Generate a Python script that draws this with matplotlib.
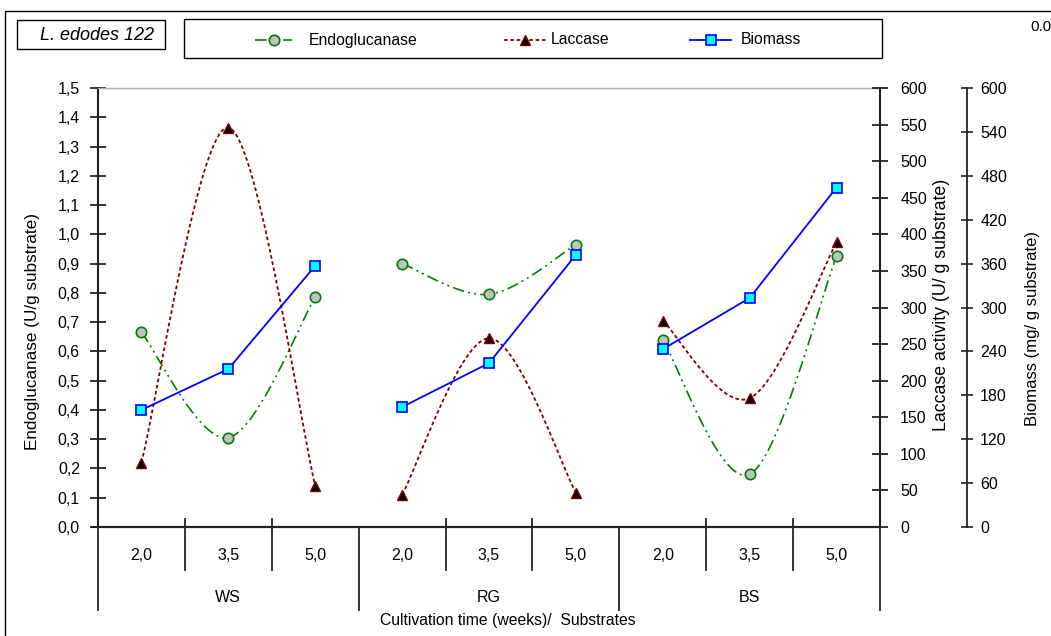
import numpy as np
import matplotlib
matplotlib.use("Agg")
import matplotlib.pyplot as plt
import matplotlib.ticker as mticker
import matplotlib.transforms as mtransforms
from matplotlib.lines import Line2D
from matplotlib.patches import Rectangle

plt.rcParams['font.family'] = ['Liberation Sans', 'DejaVu Sans']

# --- data ---
SUBSTRATES = ["WS", "RG", "BS"]
WEEKS = ["2,0", "3,5", "5,0"]
ENDO = [[0.665, 0.305, 0.785], [0.90, 0.795, 0.965], [0.64, 0.18, 0.925]]
LACCASE = [[88, 546, 56], [44, 258, 47], [282, 176, 389]]
BIOMASS = [[160, 216, 357], [164, 224, 372], [243, 313, 464]]

W, H = 1051, 636
FS = 11.5


def fx(x):
    return x / W


def fy(y):
    return 1 - y / H


def smooth(xs, ys, n=40):
    # excel style smoothed line: cubic bezier through the points
    p = np.column_stack([xs, ys]).astype(float)
    ext = np.vstack([p[0], p, p[-1]])
    out = []
    t = np.linspace(0, 1, n)[:, None]
    for i in range(len(p) - 1):
        p0, p3 = ext[i + 1], ext[i + 2]
        c1 = p0 + (ext[i + 2] - ext[i]) / 6
        c2 = p3 - (ext[i + 3] - ext[i + 1]) / 6
        seg = ((1 - t) ** 3) * p0 + 3 * ((1 - t) ** 2) * t * c1 + 3 * (1 - t) * t ** 2 * c2 + t ** 3 * p3
        out.append(seg)
    out = np.vstack(out)
    return out[:, 0], out[:, 1]


fig = plt.figure(figsize=(W / 100, H / 100), dpi=100)
ax = fig.add_axes([fx(98), fy(527), (880 - 98) / W, (527 - 88) / H])
ax2 = ax.twinx()
ax3 = ax.twinx()

ENDO_STYLE = dict(color="#008000", lw=1.2, dashes=(7, 2.5, 1.2, 2.5, 1.2, 2.5))
LAC_STYLE = dict(color="#800000", lw=1.3, dashes=(2, 1.5))
BIO_STYLE = dict(color="#0000ff", lw=1.3)
ENDO_MK = dict(marker="o", ms=7.5, mfc="#c0c0c0", mec="#008000", mew=1.2, ls="none")
LAC_MK = dict(marker="^", ms=7.5, mfc="black", mec="#800000", mew=1.0, ls="none")
BIO_MK = dict(marker="s", ms=7, mfc="#00ffff", mec="#0000ff", mew=1.2, ls="none")

for g in range(3):
    xs = np.arange(3) + 3 * g
    sx, sy = smooth(xs, ENDO[g])
    ax.plot(sx, sy, **ENDO_STYLE, zorder=3)
    ax.plot(xs, ENDO[g], **ENDO_MK, zorder=4)
    sx, sy = smooth(xs, LACCASE[g])
    ax2.plot(sx, sy, **LAC_STYLE, zorder=3)
    ax2.plot(xs, LACCASE[g], **LAC_MK, zorder=4)
    ax3.plot(xs, BIOMASS[g], **BIO_STYLE, zorder=3)
    ax3.plot(xs, BIOMASS[g], **BIO_MK, zorder=4)

ax.set_xlim(-0.5, 8.5)
ax.set_ylim(0, 1.5)
ax2.set_ylim(0, 600)
ax3.set_ylim(0, 600)

ax.set_yticks(np.arange(0, 1.51, 0.1))
ax.yaxis.set_major_formatter(mticker.FuncFormatter(lambda v, p: f"{v:.1f}".replace(".", ",")))
ax2.set_yticks(np.arange(0, 601, 50))
ax3.set_yticks(np.arange(0, 601, 60))
ax.set_xticks([])

for a in (ax, ax2, ax3):
    for s in a.spines.values():
        s.set_visible(False)

ax.spines["left"].set_visible(True)
ax.spines["left"].set_linewidth(1.5)
ax.spines["left"].set_color("#222222")
ax.spines["bottom"].set_visible(True)
ax.spines["bottom"].set_linewidth(1.5)
ax.spines["bottom"].set_color("#222222")
ax.spines["top"].set_visible(True)
ax.spines["top"].set_linewidth(1.0)
ax.spines["top"].set_color("#b0b0b0")
ax2.spines["right"].set_visible(True)
ax2.spines["right"].set_linewidth(1.5)
ax2.spines["right"].set_color("#222222")
ax3.spines["right"].set_visible(True)
ax3.spines["right"].set_position(("axes", (967 - 98) / (880 - 98)))
ax3.spines["right"].set_linewidth(1.3)
ax3.spines["right"].set_color("#222222")

ax.tick_params(axis="y", direction="inout", length=12, width=1.3, pad=7, labelsize=FS, color="#222222")
ax2.tick_params(axis="y", direction="inout", length=12, width=1.3, pad=8.5, labelsize=FS, color="#222222")
ax3.tick_params(axis="y", direction="inout", length=9, width=1.2, pad=5, labelsize=FS, color="#222222")

# category axis: separators and labels
trans = mtransforms.blended_transform_factory(ax.transData, ax.transAxes)
h = 527 - 88
for b in [0.5, 1.5, 3.5, 4.5, 6.5, 7.5]:
    ax.plot([b, b], [8 / h, -43 / h], color="#222222", lw=1.3, transform=trans, clip_on=False)
for b in [-0.5, 2.5, 5.5, 8.5]:
    ax.plot([b, b], [0, -83 / h], color="#222222", lw=1.3, transform=trans, clip_on=False)
ax.plot([-0.57, 8.5], [0, 0], color="#222222", lw=1.5, transform=trans, clip_on=False)
for g, name in enumerate(SUBSTRATES):
    for i, wk in enumerate(WEEKS):
        ax.text(3 * g + i, -29 / h, wk, transform=trans, ha="center", va="center", fontsize=FS)
    ax.text(3 * g + 1, -70 / h, name, transform=trans, ha="center", va="center", fontsize=FS)

fig.text(fx(508), fy(620), "Cultivation time (weeks)/  Substrates", ha="center", va="center", fontsize=11.3)
fig.text(fx(33), fy(332), "Endoglucanase (U/g substrate)", rotation=90, ha="center", va="center", fontsize=12.3)
fig.text(fx(941), fy(305), "Laccase activity (U/ g substrate)", rotation=90, ha="center", va="center", fontsize=12.8)
fig.text(fx(1033), fy(328), "Biomass (mg/ g substrate)", rotation=90, ha="center", va="center", fontsize=12)

# outer frame
fig.add_artist(Rectangle((fx(5), fy(660)), fx(1070 - 5), (660 - 11) / H, fill=False, ec="black", lw=1.0,
                         transform=fig.transFigure))
fig.text(fx(1030), fy(27), "0.0", ha="left", va="center", fontsize=11)

# species box
fig.add_artist(Rectangle((fx(17), fy(49)), fx(165 - 17), (49 - 20) / H, fill=False, ec="black", lw=1.0,
                         transform=fig.transFigure))
fig.text(fx(97), fy(35), "L. edodes 122", style="italic", ha="center", va="center", fontsize=13)

# legend box
fig.add_artist(Rectangle((fx(184), fy(58)), fx(882 - 184), (58 - 19) / H, fill=False, ec="black", lw=1.0,
                         transform=fig.transFigure))
ly = fy(40)
leg = [
    (255, 292, "Endoglucanase", ENDO_STYLE, ENDO_MK, 309),
    (504, 546, "Laccase", LAC_STYLE, LAC_MK, 551),
    (690, 731, "Biomass", BIO_STYLE, BIO_MK, 741),
]
for x0, x1, label, st, mk, tx in leg:
    fig.add_artist(Line2D([fx(x0), fx(x1)], [ly, ly], transform=fig.transFigure, **st))
    mk2 = dict(mk)
    mk2.pop("ls")
    fig.add_artist(Line2D([fx((x0 + x1) / 2)], [ly], transform=fig.transFigure, ls="none", **mk2))
    fig.text(fx(tx), ly, label, ha="left", va="center", fontsize=11.3)

fig.savefig("out.png", dpi=100)
